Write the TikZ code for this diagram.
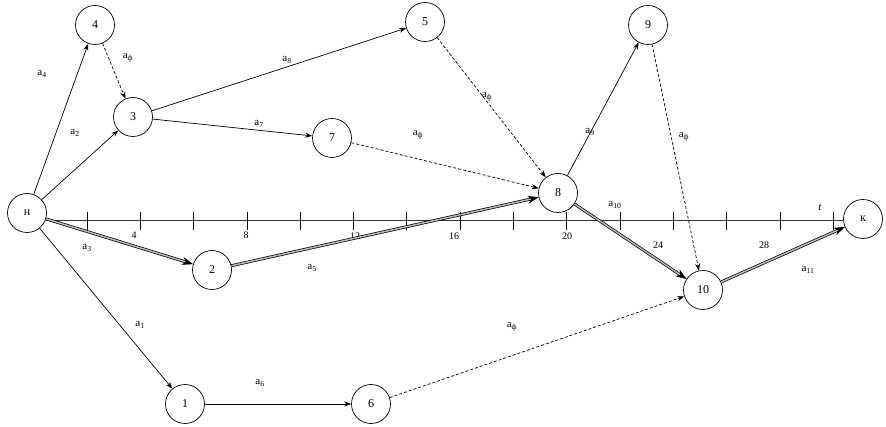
\documentclass[tikz,border=0pt]{standalone}
\usepackage{fontspec}
\setmainfont{Liberation Serif}
\usetikzlibrary{arrows.meta}
\begin{document}
\begin{tikzpicture}[x=1pt,y=-1pt,
  ev/.style={circle,draw,line width=0.7pt,minimum size=39pt,inner sep=0pt,font=\fontsize{12}{12}\selectfont},
  lab/.style={font=\fontsize{11}{11}\selectfont,inner sep=1pt},
  axlab/.style={font=\fontsize{10}{10}\selectfont,inner sep=1pt},
  arr/.style={-{Stealth[length=7pt,width=5pt]},line width=0.7pt},
  dum/.style={arr,dash pattern=on 3pt off 2pt},
  crit/.style={double=gray!55,double distance=1.5pt,line width=0.7pt,-{Stealth[length=11pt,width=8pt]}}]
\useasboundingbox (0,0) rectangle (886,427);
% axis
\coordinate (ax0) at (46,220);
\coordinate (ax1) at (843,220);
\draw[line width=0.6pt,black!80] (ax0) -- (ax1);
\foreach \k in {0,...,14} {
  \draw[line width=0.7pt] ({87+53.3*\k},212) -- ({87+53.3*\k},230);
}
\node[axlab] (t4) at (134,235) {4};
\node[axlab] (t8) at (246,235) {8};
\node[axlab] (t12) at (355,236) {12};
\node[axlab] (t16) at (454,236) {16};
\node[axlab] (t20) at (567,236) {20};
\node[axlab] (t24) at (658,245) {24};
\node[axlab] (t28) at (764,245) {28};
\node[axlab,font=\fontsize{11}{11}\itshape] (tt) at (820,207) {t};
% events
\node[ev] (n) at (27,213) {н};
\node[ev] (e4) at (95,25) {4};
\node[ev] (e3) at (133,117) {3};
\node[ev] (e5) at (425,22) {5};
\node[ev] (e7) at (332,138) {7};
\node[ev] (e8) at (558,193) {8};
\node[ev] (e9) at (648,25) {9};
\node[ev] (e2) at (212,270) {2};
\node[ev] (e1) at (185,404) {1};
\node[ev] (e6) at (371,404) {6};
\node[ev] (e10) at (703,290) {10};
\node[ev] (k) at (863,219) {к};
% works
\draw[arr] (n) -- (e4);
\draw[arr] (n) -- (e3);
\draw[arr] (n) -- (e1);
\draw[crit] (n) -- (e2);
\draw[dum] (e4) -- (e3);
\draw[arr] (e3) -- (e5);
\draw[arr] (e3) -- (e7);
\draw[dum] (e5) -- (e8);
\draw[dum] (e7) -- (e8);
\draw[crit] (e2) -- (e8);
\draw[arr] (e8) -- (e9);
\draw[crit] (e8) -- (e10);
\draw[dum] (e9) -- (e10);
\draw[arr] (e1) -- (e6);
\draw[dum] (e6) -- (e10);
\draw[crit] (e10) -- (k);
% labels
\node[lab] (l4) at (42,74) {a\textsubscript{4}};
\node[lab] (lf1) at (128,58) {a\textsubscript{ф}};
\node[lab] (l2) at (75,133) {a\textsubscript{2}};
\node[lab] (l8) at (287,60) {a\textsubscript{8}};
\node[lab] (l7) at (259,124) {a\textsubscript{7}};
\node[lab] (lf2) at (487,97) {a\textsubscript{ф}};
\node[lab] (lf3) at (418,135) {a\textsubscript{ф}};
\node[lab] (l9) at (590,132) {a\textsubscript{9}};
\node[lab] (lf4) at (684,137) {a\textsubscript{ф}};
\node[lab] (l10) at (615,205) {a\textsubscript{10}};
\node[lab] (l3) at (87,248) {a\textsubscript{3}};
\node[lab] (l5) at (312,268) {a\textsubscript{5}};
\node[lab] (l1) at (140,325) {a\textsubscript{1}};
\node[lab] (l6) at (260,383) {a\textsubscript{6}};
\node[lab] (lf5) at (512,327) {a\textsubscript{ф}};
\node[lab] (l11) at (808,270) {a\textsubscript{11}};
\end{tikzpicture}
\end{document}
